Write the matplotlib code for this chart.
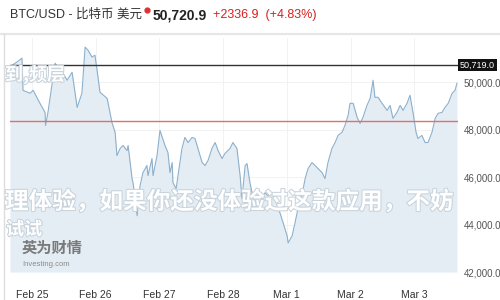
import matplotlib.pyplot as plt
import matplotlib.patheffects as pe
from matplotlib.lines import Line2D

plt.rcParams['font.family'] = ['Liberation Sans', 'Noto Sans CJK SC', 'DejaVu Sans']

# hours since Feb 25 00:00 and BTC/USD price
hours = [-8.3, -7.5, -5.7, -3.8, -3.4, -0.75, 0.4, 3.0, 4.9, 5.1, 6.0, 8.7, 10.6, 11.7, 13.2,
         15.1, 17.0, 18.8, 20.0, 21.1, 22.6, 23.7, 24.5, 25.6, 28.3, 30.1, 31.3, 32.0, 33.2,
         34.3, 35.8, 36.2, 37.7, 38.1, 39.6, 40.7, 41.8, 43.3, 43.7, 45.2, 45.6, 47.1, 48.2,
         50.1, 51.2, 52.0, 52.8, 53.1, 54.3, 55.0, 56.5, 57.6, 58.8, 60.3, 61.4, 62.5, 64.1,
         65.2, 66.3, 67.8, 69.0, 70.1, 71.6, 72.7, 74.6, 75.7, 77.2, 78.4, 79.1, 80.3, 81.0,
         82.1, 82.9, 84.0, 85.2, 86.7, 87.8, 88.9, 90.4, 91.6, 93.4, 94.6, 96.1, 96.5, 98.0,
         99.1, 100.2, 101.7, 102.9, 104.0, 105.5, 106.6, 107.8, 109.3, 110.4, 111.5, 113.0,
         114.2, 115.3, 116.8, 117.9, 119.1, 119.8, 121.0, 122.5, 123.6, 124.7, 126.2, 127.4,
         128.5, 129.2, 130.4, 131.9, 133.0, 133.8, 134.9, 136.0, 137.5, 138.7, 139.8, 141.3,
         142.4, 143.2, 143.6, 144.7, 145.4, 146.9, 148.1, 149.2, 150.7, 151.9, 153.0, 154.5,
         155.6, 156.8, 158.3, 159.4, 160.1]
prices = [50600, 50720, 50850, 51015, 49660, 49535, 49660, 49110, 48730, 48180, 48730, 50800,
          50510, 50380, 50085, 50420, 48940, 49535, 51480, 51350, 51060, 51140, 50510, 49580,
          49320, 48310, 47890, 46910, 47210, 47335, 47120, 47335, 45940, 45730, 44375, 45640,
          46190, 46490, 46065, 46785, 46065, 46910, 47970, 47335, 47040, 46190, 46615, 45770,
          45515, 46065, 47210, 47675, 47460, 47675, 47630, 47210, 46615, 46490, 46700, 47210,
          47460, 47120, 46785, 47000, 47210, 47460, 47210, 46065, 45090, 46490, 46575, 45770,
          45345, 45090, 44880, 45090, 45345, 45220, 45345, 45090, 44500, 44080, 43530, 43230,
          43530, 44080, 44670, 45220, 45940, 46360, 46615, 46490, 46360, 46190, 45940, 46615,
          47210, 47460, 47760, 47890, 48180, 48605, 49110, 49110, 48520, 48265, 48520, 49025,
          49320, 50085, 49365, 49365, 49110, 48940, 48815, 49025, 48480, 48730, 49025, 48815,
          49110, 49450, 48940, 48690, 47890, 47630, 47760, 47460, 47460, 47890, 48480, 48690,
          48730, 48940, 49110, 49535, 49660, 49960]

day_ticks = [0, 24, 48, 72, 96, 120, 144]
day_labels = ['Feb 25', 'Feb 26', 'Feb 27', 'Feb 28', 'Mar 1', 'Mar 2', 'Mar 3']
price_ticks = [42000, 44000, 46000, 48000, 50000]
last_price = 50719.0
prev_close = 48384.0

fig = plt.figure(figsize=(5, 3), dpi=100)
ax = fig.add_axes([0.02, 0.093, 0.896, 0.78])

ax.fill_between(hours, prices, 42000, color='#e4edf4', lw=0)
ax.plot(hours, prices, color='#8cb0cc', lw=0.8)
ax.axhline(last_price, color='#333333', lw=1)
ax.axhline(prev_close, color='#e07070', lw=1)

ax.set_xlim(-8.3, 160.5)
ax.set_ylim(42000, 51860)
ax.set_xticks(day_ticks)
ax.set_xticklabels(day_labels)
ax.set_yticks(price_ticks)
ax.set_yticklabels(['{:,.1f}'.format(v) for v in price_ticks])
ax.grid(True, color='#f0f0f0', lw=0.6)
ax.set_axisbelow(True)
for s in ax.spines.values():
    s.set_visible(False)
ax.yaxis.tick_right()
ax.tick_params(axis='y', length=0, pad=4, labelsize=7, labelcolor='#555555')
ax.tick_params(axis='x', length=0, pad=13, labelsize=7.5, labelcolor='#333333')

# last price tag
ax.text(1.004, last_price, '{:,.1f}'.format(last_price), transform=ax.get_yaxis_transform(),
        ha='left', va='center', fontsize=6.5, color='white',
        bbox=dict(boxstyle='square,pad=0.2', fc='#111111', ec='none'))

# header
fig.text(0.02, 0.95, 'BTC/USD - 比特币 美元', fontsize=9, color='#333333', va='center')
fig.add_artist(Line2D([0.294], [0.967], marker='o', ms=3.5, color='#e03030', transform=fig.transFigure))
fig.text(0.306, 0.95, '50,720.9', fontsize=10, fontweight='bold', color='#222222', va='center')
fig.text(0.426, 0.95, '+2336.9  (+4.83%)', fontsize=9, color='#d62020', va='center')
fig.add_artist(Line2D([0.0, 1.0], [0.888, 0.888], color='#e6e6e6', lw=1.5, transform=fig.transFigure))
fig.add_artist(Line2D([0.007, 0.007], [0.0, 0.888], color='#dddddd', lw=1, transform=fig.transFigure))

# logo
fig.text(0.044, 0.17, '英为财情', fontsize=11, fontweight='bold', color='#7a7a7a', va='center')
fig.text(0.044, 0.117, 'Investing.com', fontsize=5.5, color='#8a8a8a', va='center')

# watermark overlay
wm = [pe.withStroke(linewidth=1.5, foreground='#c8d3dc')]
fig.text(0.01, 0.327, '理体验，如果你还没体验过这款应用，不妨', fontsize=17, fontweight='bold',
         color='white', va='center', family=['Noto Sans CJK SC'], path_effects=wm)
fig.text(0.012, 0.235, '试试', fontsize=13, fontweight='bold', color='white', va='center',
         family=['Noto Sans CJK SC'], path_effects=wm)
fig.text(0.01, 0.75, '到,频层', fontsize=13, fontweight='bold', color='white', va='center',
         family=['Noto Sans CJK SC'], path_effects=wm)

fig.savefig('out.png', dpi=100)
